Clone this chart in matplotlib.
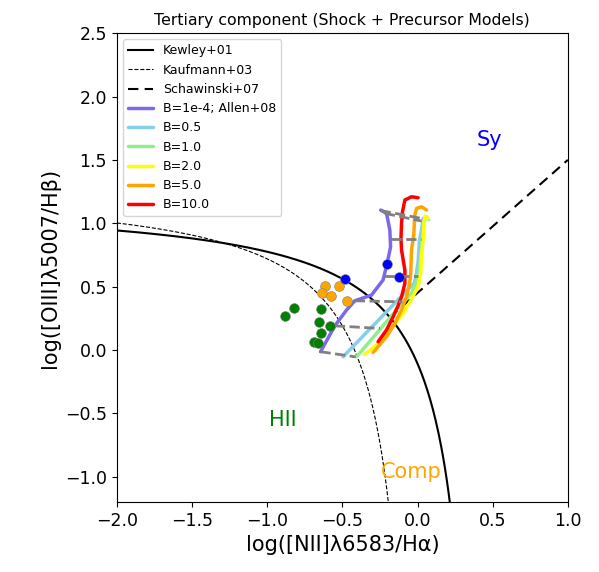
import numpy as np
import matplotlib
matplotlib.use('Agg')
import matplotlib.pyplot as plt

# shock + precursor tracks (Allen+08)
b_labels = ['B=1e-4; Allen+08', 'B=0.5', 'B=1.0', 'B=2.0', 'B=5.0', 'B=10.0']
b_colors = ['mediumslateblue', 'skyblue', 'lightgreen', 'yellow', 'orange', 'red']

n2_b1e4 = [-0.645, -0.55, -0.472, -0.417, -0.306, -0.229, -0.202, -0.179, -0.184, -0.206, -0.245]
o3_b1e4 = [-0.014, 0.19, 0.315, 0.388, 0.433, 0.552, 0.683, 0.814, 0.946, 1.078, 1.104]

n2_b05 = [-0.495, -0.02, -0.008, 0.004, 0.013, 0.027, 0.038, 0.06]
o3_b05 = [-0.054, 0.53, 0.60, 0.70, 0.867, 0.95, 1.038, 1.05]

n2_b1 = [-0.405, -0.151, -0.04, 0.0, 0.02, 0.03, 0.04, 0.055, 0.075]
o3_b1 = [-0.054, 0.30, 0.45, 0.55, 0.70, 0.85, 1.0, 1.05, 1.03]

n2_b2 = [-0.350, -0.273, -0.184, -0.095, -0.04, 0.004, 0.022, 0.027, 0.04, 0.045, 0.05, 0.071]
o3_b2 = [-0.035, 0.039, 0.157, 0.289, 0.40, 0.50, 0.62, 0.75, 0.90, 1.02, 1.055, 1.038]

n2_b5 = [-0.295, -0.206, -0.151, -0.106, -0.073, -0.053, -0.045, -0.04, -0.025, -0.018, -0.006, 0.027, 0.060]
o3_b5 = [-0.02, 0.104, 0.210, 0.315, 0.42, 0.525, 0.60, 0.788, 0.906, 1.064, 1.117, 1.130, 1.104]

n2_b10 = [-0.262, -0.206, -0.162, -0.129, -0.106, -0.084, -0.084, -0.106, -0.11, -0.106, -0.10, -0.084, -0.040, 0.004]
o3_b10 = [0.065, 0.157, 0.262, 0.35, 0.42, 0.525, 0.63, 0.788, 0.88, 1.00, 1.09, 1.183, 1.209, 1.201]

tracks_n2 = [n2_b1e4, n2_b05, n2_b1, n2_b2, n2_b5, n2_b10]
tracks_o3 = [o3_b1e4, o3_b05, o3_b1, o3_b2, o3_b5, o3_b10]

# iso-velocity grid lines (left end on B=1e-4, right end across the B tracks)
grid_n2_start = [-0.645, -0.55, -0.417, -0.222, -0.176, -0.217, -0.245]
grid_o3_start = [-0.014, 0.19, 0.388, 0.583, 0.873, 1.078, 1.100]
grid_n2_end = [-0.41, -0.25, -0.10, 0.004, 0.02, 0.027, 0.027]
grid_o3_end = [-0.055, 0.17, 0.38, 0.583, 0.873, 1.017, 1.038]

# observed regions
hii_n2 = [-0.823, -0.878, -0.645, -0.656, -0.583, -0.643, -0.690, -0.661]
hii_o3 = [0.333, 0.267, 0.323, 0.218, 0.191, 0.131, 0.065, 0.057]
comp_n2 = [-0.612, -0.521, -0.632, -0.576, -0.468]
comp_o3 = [0.506, 0.504, 0.451, 0.425, 0.386]
sy_n2 = [-0.483, -0.20, -0.125]
sy_o3 = [0.559, 0.68, 0.578]

fig = plt.figure(figsize=(5.99, 5.72), dpi=100)
ax = fig.add_axes([0.195, 0.1224, 0.753, 0.8196])

# demarcation lines
x1 = np.linspace(-2.0, 0.46, 400)
ax.plot(x1, 0.61 / (x1 - 0.47) + 1.19, color='black', lw=1.5, label='Kewley+01')
x2 = np.linspace(-2.0, 0.04, 400)
ax.plot(x2, 0.61 / (x2 - 0.05) + 1.3, color='black', lw=0.8, ls='--', label='Kaufmann+03')
x3 = np.linspace(-0.184, 1.0, 50)
ax.plot(x3, 1.05 * x3 + 0.45, color='black', lw=1.5, ls='--', dashes=(5, 3), label='Schawinski+07')

for xs, ys, c, lab in zip(tracks_n2, tracks_o3, b_colors, b_labels):
    ax.plot(xs, ys, color=c, lw=2.5, label=lab, zorder=2, solid_capstyle='round')

for i in range(len(grid_n2_start)):
    ax.plot([grid_n2_start[i], grid_n2_end[i]], [grid_o3_start[i], grid_o3_end[i]],
            color='gray', lw=2, ls='--', zorder=3)

ax.scatter(hii_n2, hii_o3, s=50, color='green', edgecolors='gray', linewidths=0.4, zorder=4)
ax.scatter(comp_n2, comp_o3, s=50, color='orange', edgecolors='gray', linewidths=0.4, zorder=4)
ax.scatter(sy_n2, sy_o3, s=50, color='blue', edgecolors='gray', linewidths=0.4, zorder=4)

ax.text(-0.896, -0.553, 'HII', color='green', fontsize=15, ha='center', va='center')
ax.text(-0.044, -0.963, 'Comp', color='orange', fontsize=15, ha='center', va='center')
ax.text(0.481, 1.655, 'Sy', color='blue', fontsize=15, ha='center', va='center')

ax.set_xlim(-2.0, 1.0)
ax.set_ylim(-1.2, 2.5)
ax.set_xticks(np.arange(-2.0, 1.01, 0.5))
ax.set_yticks(np.arange(-1.0, 2.51, 0.5))
ax.tick_params(labelsize=12.5)
ax.set_xlabel('log([NII]λ6583/Hα)', fontsize=15)
ax.set_ylabel('log([OIII]λ5007/Hβ)', fontsize=15)
ax.set_title('Tertiary component (Shock + Precursor Models)', fontsize=11.3)
ax.legend(loc='upper left', fontsize=9)

fig.savefig('out.png', dpi=100)
